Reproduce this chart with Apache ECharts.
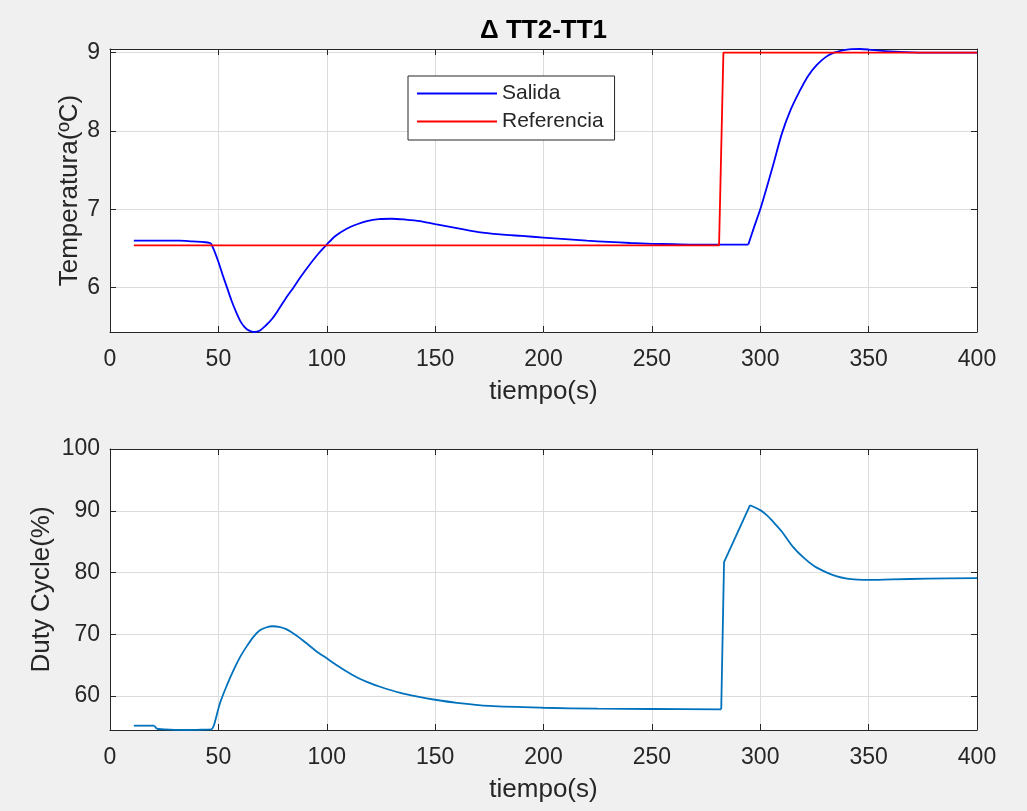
<!DOCTYPE html>
<html>
<head>
<meta charset="utf-8">
<title>Δ TT2-TT1</title>
<script src="https://cdn.jsdelivr.net/npm/echarts@6/dist/echarts.min.js"></script>
<style>
  html, body { margin: 0; padding: 0; background: #f0f0f0; }
  #chart { width: 1027px; height: 811px; }
</style>
</head>
<body>
<div id="chart"></div>
<script>
// Temperature difference response [tiempo (s), ΔT (ºC)]
const salida = [
  [11, 6.60], [20, 6.60], [32, 6.60], [38, 6.59], [44, 6.58], [46.5, 6.57],
  [48, 6.48], [50, 6.33], [52, 6.16], [54, 6.00], [56, 5.84], [58, 5.70],
  [60, 5.58], [62, 5.50], [64, 5.455], [66.5, 5.434], [69, 5.45], [72, 5.52],
  [75, 5.61], [78, 5.73], [81, 5.86], [84.6, 6.00], [88, 6.14], [92, 6.29],
  [96, 6.43], [100, 6.55], [104, 6.66], [109, 6.75], [114, 6.81], [118.5, 6.85],
  [124, 6.875], [130, 6.88], [136, 6.87], [143, 6.85], [150, 6.81], [160, 6.76],
  [170, 6.71], [180, 6.68], [190, 6.66], [200, 6.64], [210, 6.62], [220, 6.60],
  [230, 6.585], [240, 6.57], [250, 6.56], [260, 6.555], [270, 6.55], [281, 6.55],
  [294.5, 6.55], [297, 6.76], [300, 7.00], [303, 7.28], [306, 7.57], [310, 7.97],
  [314, 8.27], [318, 8.50], [322, 8.70], [326, 8.84], [330, 8.94], [334, 9.00],
  [338, 9.03], [342, 9.045], [346, 9.047], [350, 9.04], [355, 9.025], [360, 9.015],
  [370, 9.005], [380, 9.0], [390, 9.0], [400, 9.0]
];
// Times where the response has a sharp corner
const esquinasSalida = [46.5, 294.5];

// Setpoint [tiempo (s), ΔT (ºC)]
const referencia = [
  [11, 6.54], [281, 6.54], [283, 9.0], [400, 9.0]
];

// Heater duty cycle [tiempo (s), %]
const duty = [
  [11, 55.2], [20.5, 55.2], [21.5, 54.7], [25, 54.6], [30, 54.52], [35, 54.5],
  [40, 54.52], [44, 54.56], [47, 54.6], [48, 55.3], [50.8, 58.9], [54, 61.8],
  [57, 64.2], [60, 66.3], [63, 68.0], [66, 69.5], [69, 70.6], [72, 71.1],
  [75, 71.3], [78, 71.2], [81.5, 70.8], [86, 69.8], [90.8, 68.5], [95, 67.3],
  [100, 66.1], [105, 64.9], [109, 64.0], [114, 63.0], [118.5, 62.3], [124.6, 61.5],
  [134, 60.5], [142, 59.9], [150, 59.4], [160, 58.9], [175, 58.4], [200, 58.1],
  [225, 57.95], [250, 57.9], [282, 57.85], [283.3, 81.7], [295.3, 90.9], [300, 90.1],
  [303, 89.3], [306, 88.2], [310, 86.6], [315, 84.2], [320, 82.4], [325, 81.0],
  [330, 80.1], [335, 79.4], [340, 79.0], [345, 78.85], [350, 78.8], [361, 78.9],
  [377, 79.0], [400, 79.1]
];
// Times where the duty cycle has a sharp corner (steps and saturation)
const esquinasDuty = [20.5, 21.5, 47, 282, 283.3, 295.3];

const tituloTexto = 'Δ TT2-TT1';
const nombreEjeX = 'tiempo(s)';
const nombreTemp = 'Temperatura(ºC)';
const nombreDuty = 'Duty Cycle(%)';
const nombresSeries = ['Salida', 'Referencia'];

const FONT = '"Liberation Sans", Arial, Helvetica, sans-serif';
const INK = '#262626';
const GRID_LINE = '#dcdcdc';

// Cut a polyline at the given times; the corner point is shared by both pieces
// so each piece can be smoothed on its own while corners stay sharp.
function trozos(data, esquinas) {
  const out = [];
  let actual = [];
  data.forEach(p => {
    actual.push(p);
    if (esquinas.includes(p[0])) {
      out.push(actual);
      actual = [p];
    }
  });
  if (actual.length > 1) out.push(actual);
  return out;
}

function seriesSuaves(data, esquinas, nombre, color, xi, yi) {
  return trozos(data, esquinas).map((seg, i) => ({
    name: i === 0 ? nombre : nombre + '#' + i,
    type: 'line', xAxisIndex: xi, yAxisIndex: yi,
    data: seg, symbol: 'none', smooth: seg.length > 2 ? 0.3 : false, clip: false,
    lineStyle: { color, width: 1.8 }, itemStyle: { color }
  }));
}

const chart = echarts.init(document.getElementById('chart'), null, { renderer: 'canvas' });

// Bottom x axis with labels, grid lines and inward ticks
function xMain(gridIndex) {
  return {
    type: 'value', gridIndex, position: 'bottom',
    min: 0, max: 400, interval: 50,
    name: nombreEjeX, nameLocation: 'middle', nameGap: 47, nameMoveOverlap: false,
    nameTextStyle: { fontFamily: FONT, fontSize: 26, color: INK },
    axisLine: { show: true, onZero: false, lineStyle: { color: INK, width: 1 } },
    axisTick: { show: true, inside: true, length: 6, lineStyle: { color: INK } },
    axisLabel: { fontFamily: FONT, fontSize: 23, color: INK, margin: 16 },
    splitLine: { show: true, lineStyle: { color: GRID_LINE, width: 1 } }
  };
}

// Top x axis: closes the box, ticks only
function xBox(gridIndex) {
  return {
    type: 'value', gridIndex, position: 'top',
    min: 0, max: 400, interval: 50,
    axisLine: { show: true, onZero: false, lineStyle: { color: INK, width: 1 } },
    axisTick: { show: true, inside: true, length: 6, lineStyle: { color: INK } },
    axisLabel: { show: false },
    splitLine: { show: false }
  };
}

// Left (labelled) and right (box) y axes sharing one range
function yAxisPair(gridIndex, min, max, split, name, nameGap) {
  const shared = { type: 'value', gridIndex, min, max, splitNumber: split };
  return [
    Object.assign({}, shared, {
      position: 'left',
      name, nameLocation: 'middle', nameGap, nameMoveOverlap: false,
      nameTextStyle: { fontFamily: FONT, fontSize: 26, color: INK },
      axisLine: { show: true, onZero: false, lineStyle: { color: INK, width: 1 } },
      axisTick: { show: true, inside: true, length: 6, lineStyle: { color: INK } },
      axisLabel: {
        fontFamily: FONT, fontSize: 23, color: INK, margin: 10,
        showMinLabel: false,
        formatter: v => (Math.abs(v - Math.round(v)) < 1e-9 ? String(Math.round(v)) : '')
      },
      splitLine: { show: true, lineStyle: { color: GRID_LINE, width: 1 } }
    }),
    Object.assign({}, shared, {
      position: 'right',
      axisLine: { show: true, onZero: false, lineStyle: { color: INK, width: 1 } },
      axisTick: { show: true, inside: true, length: 6, lineStyle: { color: INK } },
      axisLabel: { show: false },
      splitLine: { show: false }
    })
  ];
}

const yTop = yAxisPair(0, 5.434, 9.047, 4, nombreTemp, 27);
const yBottom = yAxisPair(1, 54.5, 100, 5, nombreDuty, 55);

const option = {
  backgroundColor: '#f0f0f0',
  animation: false,
  textStyle: { fontFamily: FONT },
  graphic: [{
    type: 'text', x: 543.5, y: 31, z: 10,
    style: {
      text: tituloTexto, fill: '#000', font: 'bold 26px ' + FONT,
      align: 'center', verticalAlign: 'middle'
    }
  }],
  grid: [
    { left: 110, top: 49, width: 867, height: 283, show: true, backgroundColor: '#ffffff', borderWidth: 0 },
    { left: 110, top: 449, width: 867, height: 281, show: true, backgroundColor: '#ffffff', borderWidth: 0 }
  ],
  legend: {
    data: nombresSeries,
    orient: 'vertical',
    left: 408, top: 76,
    padding: [7, 11, 8, 9],
    icon: 'rect',
    itemWidth: 80, itemHeight: 2, itemGap: 7,
    backgroundColor: '#ffffff',
    borderColor: INK, borderWidth: 1, borderRadius: 0,
    textStyle: { fontFamily: FONT, fontSize: 21, color: INK, lineHeight: 21 },
    selectedMode: false
  },
  xAxis: [xMain(0), xBox(0), xMain(1), xBox(1)],
  yAxis: [yTop[0], yTop[1], yBottom[0], yBottom[1]],
  series: [
    ...seriesSuaves(salida, esquinasSalida, nombresSeries[0], '#0000ff', 0, 0),
    {
      name: nombresSeries[1], type: 'line', xAxisIndex: 0, yAxisIndex: 0,
      data: referencia, symbol: 'none', smooth: false, clip: false,
      lineStyle: { color: '#ff0000', width: 1.8 }, itemStyle: { color: '#ff0000' }
    },
    ...seriesSuaves(duty, esquinasDuty, 'Duty', '#0072bd', 2, 2)
  ]
};

chart.setOption(option);
</script>
</body>
</html>
